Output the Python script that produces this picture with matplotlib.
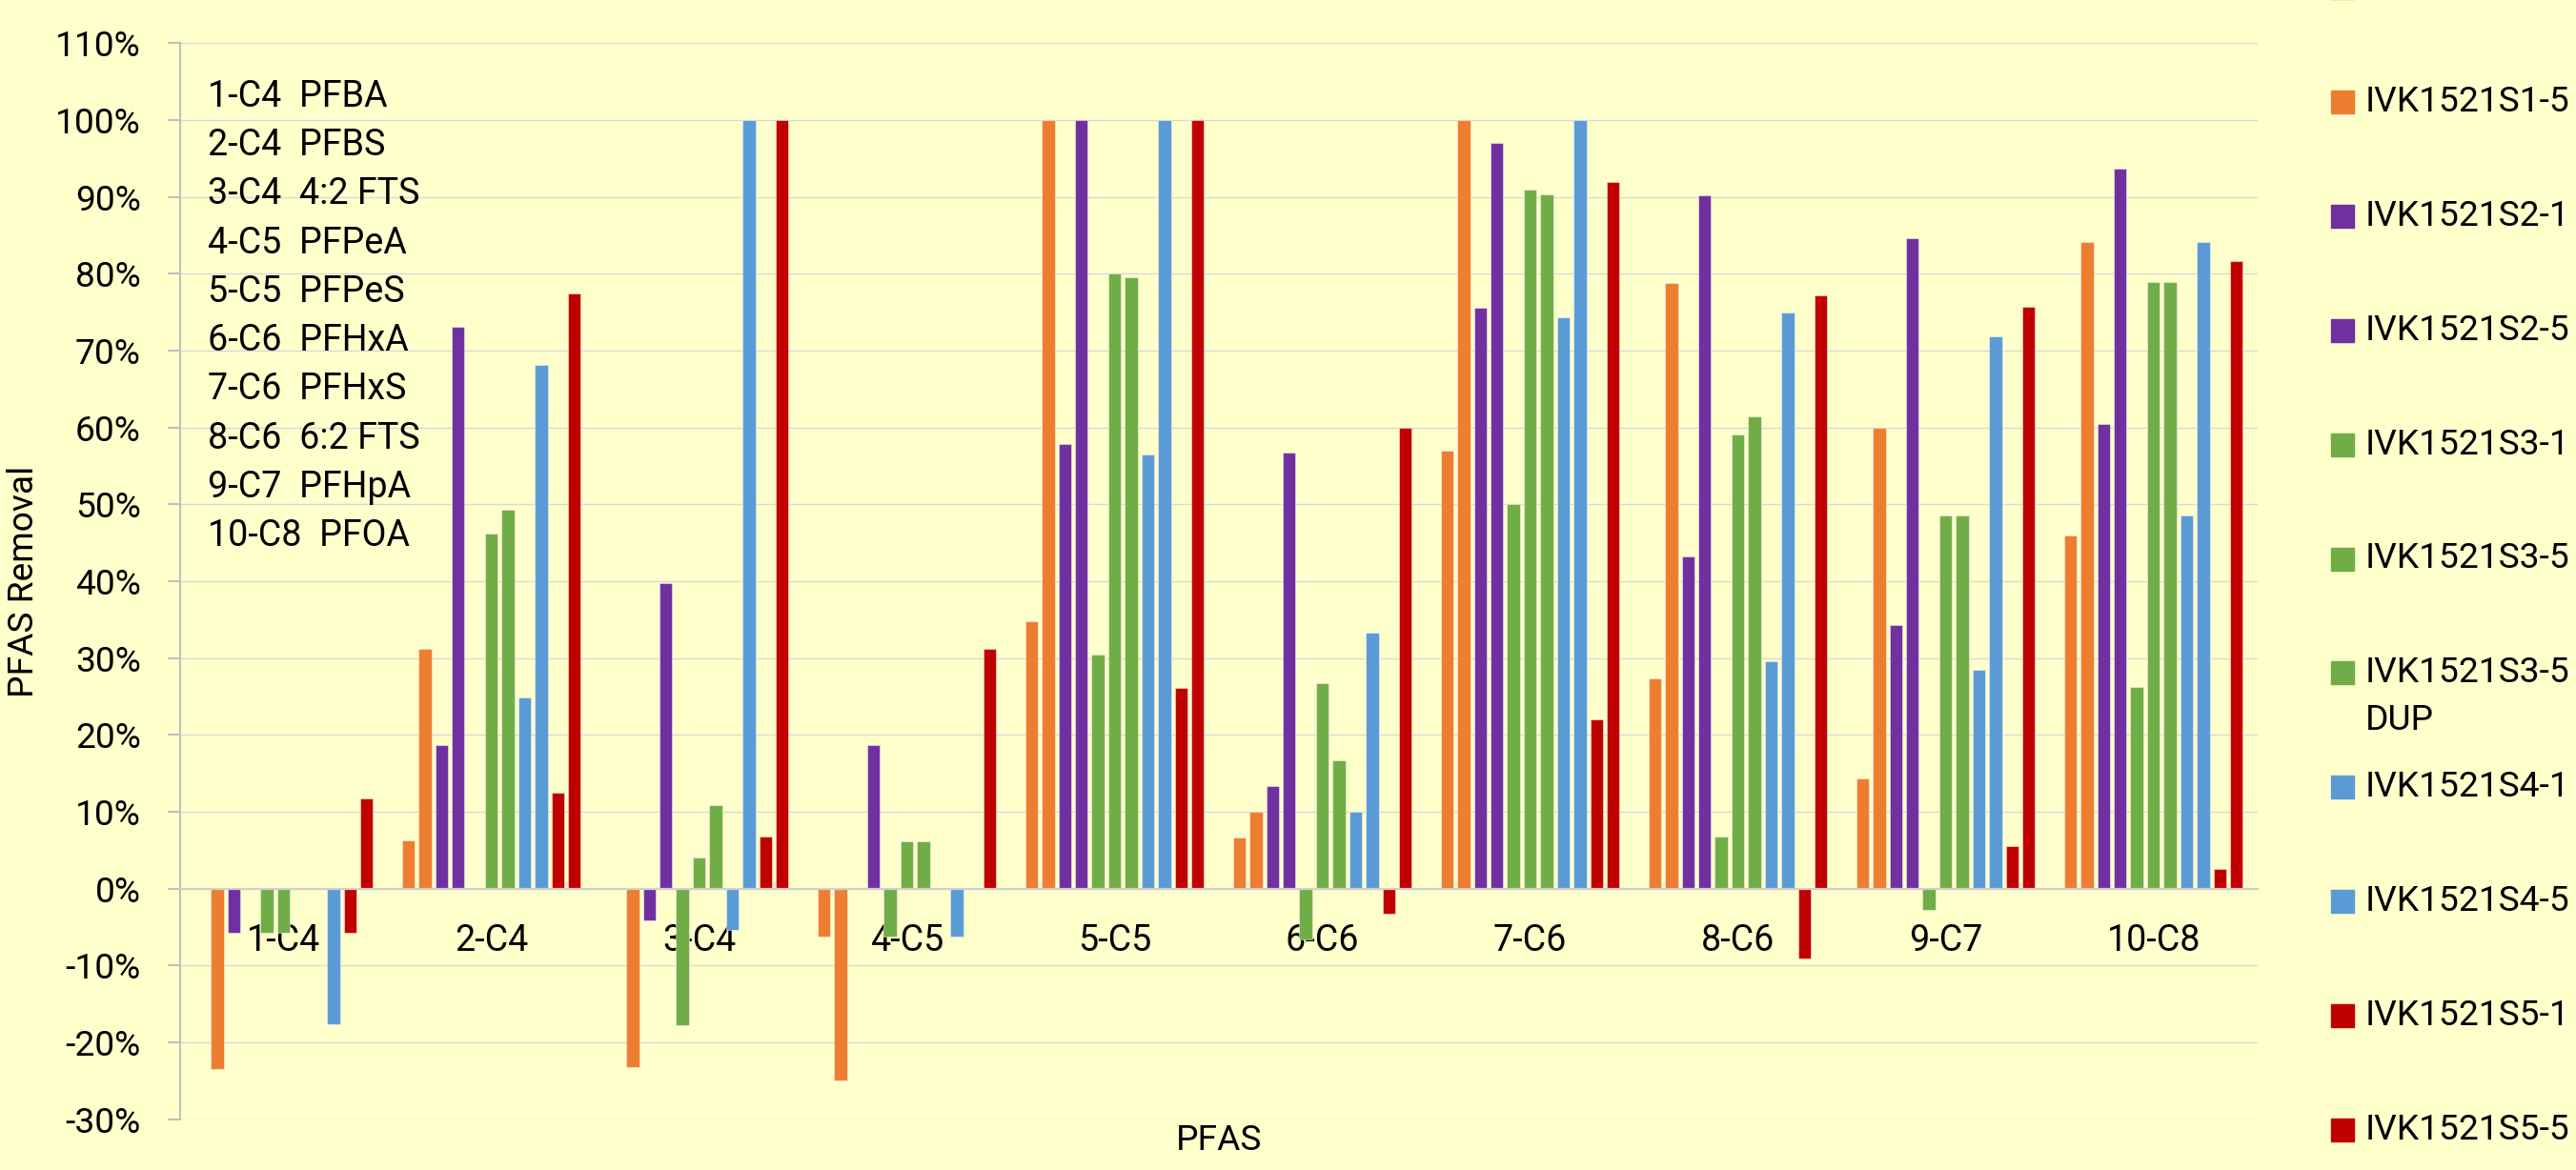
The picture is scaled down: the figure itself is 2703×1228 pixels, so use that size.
import numpy as np
import matplotlib
matplotlib.use('Agg')
import matplotlib.pyplot as plt
from matplotlib.patches import Rectangle
from matplotlib.ticker import PercentFormatter

# PFAS removal per sample, values in percent
categories = ['1-C4', '2-C4', '3-C4', '4-C5', '5-C5', '6-C6', '7-C6', '8-C6', '9-C7', '10-C8']
series_names = ['IVK1521S1-1', 'IVK1521S1-5', 'IVK1521S2-1', 'IVK1521S2-5',
                'IVK1521S3-1', 'IVK1521S3-5', 'IVK1521S3-5\nDUP', 'IVK1521S4-1',
                'IVK1521S4-5', 'IVK1521S5-1', 'IVK1521S5-5']
s1_1 = [0, 6.3, 0, -6.2, 34.8, 6.7, 57.0, 27.3, 14.3, 46.0]
s1_5 = [-23.5, 31.2, -23.2, -25.0, 100, 10.0, 100, 78.8, 60.0, 84.2]
s2_1 = [-5.8, 18.7, -4.1, 0, 57.9, 13.4, 75.6, 43.2, 34.3, 60.5]
s2_5 = [0, 73.1, 39.7, 18.7, 100, 56.7, 97.0, 90.2, 84.6, 93.7]
s3_1 = [-5.8, 0, -17.8, -6.2, 30.5, -6.6, 50.0, 6.8, -2.8, 26.3]
s3_5 = [-5.8, 46.2, 4.1, 6.2, 80.0, 26.7, 90.9, 59.1, 48.5, 78.9]
s3_5_dup = [0, 49.3, 10.9, 6.2, 79.5, 16.7, 90.4, 61.4, 48.5, 78.9]
s4_1 = [0, 24.9, -5.4, 0, 56.5, 10.0, 74.4, 29.6, 28.5, 48.6]
s4_5 = [-17.7, 68.1, 100, -6.2, 100, 33.3, 100, 75.0, 71.9, 84.2]
s5_1 = [-5.8, 12.5, 6.8, 0, 26.1, -3.3, 22.0, -9.1, 5.6, 2.6]
s5_5 = [11.7, 77.5, 100, 31.2, 100, 60.0, 91.9, 77.2, 75.7, 81.6]
pfas_names = ['1-C4  PFBA', '2-C4  PFBS', '3-C4  4:2 FTS', '4-C5  PFPeA', '5-C5  PFPeS',
              '6-C6  PFHxA', '7-C6  PFHxS', '8-C6  6:2 FTS', '9-C7  PFHpA', '10-C8  PFOA']

series = [s1_1, s1_5, s2_1, s2_5, s3_1, s3_5, s3_5_dup, s4_1, s4_5, s5_1, s5_5]
orange, purple, green, blue, red = '#ED7D31', '#7030A0', '#70AD47', '#5B9BD5', '#C00000'
colors = [orange, orange, purple, purple, green, green, green, blue, blue, red, red]

bg = '#FFFFCC'
W, H = 2703, 1228
plt.rcParams['font.family'] = ['Roboto', 'DejaVu Sans']
plt.rcParams['axes.unicode_minus'] = False

fig = plt.figure(figsize=(W / 100, H / 100), dpi=100, facecolor=bg)
renderer = fig.canvas.get_renderer()

# size fonts so that sample strings get the widths (px) they have in the reference
def fit_size(s, target, base=26.0):
    t = fig.text(0, 0, s, fontsize=base)
    w = t.get_window_extent(renderer).width
    t.remove()
    return base * target / w

fs_tick = fit_size('110%', 90)
fs_cat = fit_size('2-C4', 77)
fs_list = fit_size('3-C4  4:2 FTS', 222)
fs_leg = fit_size('IVK1521S2-1', 215)
fs_lab = fs_tick

# plot area in pixels: x 188.6..2368.6, y 45.4 (110%)..1174.7 (-30%)
ax = fig.add_axes([188.6 / W, 1 - 1174.7 / H, 2180 / W, (1174.7 - 45.4) / H])
ax.set_facecolor(bg)

x = np.arange(len(categories))
pitch = 0.0799
width = 0.0615
for i, vals in enumerate(series):
    ax.bar(x + (i - 5) * pitch, np.array(vals) / 100, width, color=colors[i],
           edgecolor=(1, 1, 1, 0.45), linewidth=0.8, zorder=3)

ax.set_xlim(-0.5, len(categories) - 0.5)
ax.set_ylim(-0.3, 1.1)
ax.set_yticks(np.arange(-0.3, 1.101, 0.1))
ax.yaxis.set_major_formatter(PercentFormatter(1.0, decimals=0))
ax.grid(axis='y', color='#D9D9D9', linewidth=1.0, zorder=0)
ax.set_axisbelow(True)

for s in ['top', 'right']:
    ax.spines[s].set_visible(False)
ax.spines['left'].set_color('#BFBFBF')
ax.spines['left'].set_linewidth(1.5)
ax.spines['bottom'].set_position(('data', 0))
ax.spines['bottom'].set_color('#D0D0D0')
ax.spines['bottom'].set_linewidth(1.6)
ax.spines['bottom'].set_zorder(4)

ax.set_xticks(x)
ax.set_xticklabels(categories, fontsize=fs_cat)
ax.tick_params(axis='x', length=0, pad=26)
ax.tick_params(axis='y', length=9.5, width=1.5, color='#BFBFBF', labelsize=fs_tick, pad=20)

ax.set_ylabel('PFAS Removal', fontsize=fs_lab)
ax.yaxis.set_label_coords(-0.067, 0.5)
ax.set_xlabel('PFAS', fontsize=fs_lab)
ax.xaxis.set_label_coords(0.5, -0.004)

# list of PFAS names in the upper left
for k, name in enumerate(pfas_names):
    ax.text(-0.365, 1.0305 - 0.0635 * k, name, fontsize=fs_list, va='center', ha='left', zorder=5)

# legend drawn on the right, first entry cut by the top edge
def fx(px):
    return px / W

def fy(py):
    return 1 - py / H

for i, name in enumerate(series_names):
    yc = -13 + 119.9 * i
    fig.add_artist(Rectangle((fx(2446), fy(yc + 12)), 24 / W, 24 / H,
                             transform=fig.transFigure, color=colors[i]))
    for j, line in enumerate(name.split('\n')):
        fig.text(fx(2482), fy(yc + 49.5 * j), line, fontsize=fs_leg, va='center', ha='left')

fig.savefig('out.png', dpi=100, facecolor=bg)
